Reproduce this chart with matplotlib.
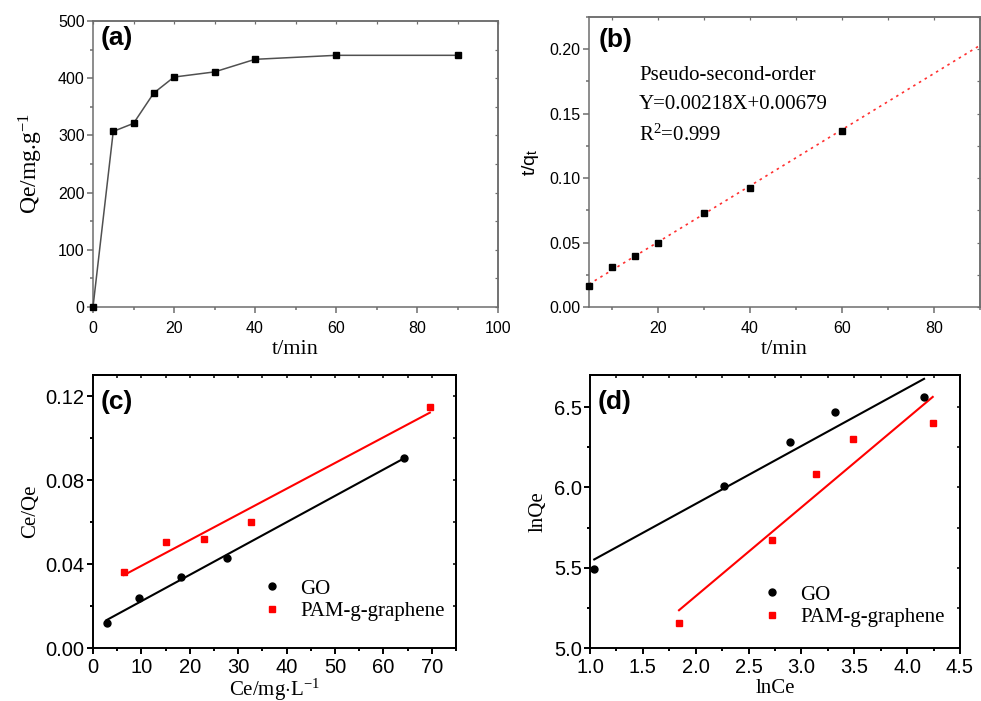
import numpy as np
import matplotlib
matplotlib.use('Agg')
import matplotlib.pyplot as plt
from matplotlib.ticker import MultipleLocator

plt.rcParams['font.family'] = ['Liberation Sans', 'DejaVu Sans']
plt.rcParams['mathtext.fontset'] = 'custom'
plt.rcParams['mathtext.rm'] = 'Liberation Serif'
plt.rcParams['mathtext.it'] = 'Liberation Serif:italic'
plt.rcParams['mathtext.bf'] = 'Liberation Serif:bold'
plt.rcParams['mathtext.sf'] = 'Liberation Sans'
SERIF = ['Liberation Serif', 'DejaVu Serif']

# ---------------- data ----------------
# (a) adsorption kinetics
t_a = [0, 5, 10, 15, 20, 30, 40, 60, 90]
qe_a = [0, 307, 321, 374, 402, 411, 433, 440, 440]

# (b) pseudo-second-order
t_b = [5, 10, 15, 20, 30, 40, 60]
tq_b = [0.0163, 0.0310, 0.0398, 0.0496, 0.0731, 0.0922, 0.1362]
fit_slope_b = 0.00218
fit_icpt_b = 0.00679
fit_range_b = [5, 90]

# (c) Langmuir
ce_go = [2.8, 9.6, 18.1, 27.7, 64.3]
ceqe_go = [0.0117, 0.0236, 0.0337, 0.0429, 0.0905]
ce_pam = [6.4, 15.1, 22.9, 32.6, 69.6]
ceqe_pam = [0.0362, 0.0507, 0.0521, 0.0600, 0.1149]

# (d) Freundlich
lnce_go = [1.04, 2.265, 2.895, 3.32, 4.16]
lnqe_go = [5.49, 6.01, 6.284, 6.467, 6.563]
lnce_pam = [1.842, 2.719, 3.138, 3.488, 4.242]
lnqe_pam = [5.156, 5.674, 6.084, 6.300, 6.404]

series_labels = ['GO', 'PAM-g-graphene']

# ---------------- figure ----------------
W, H = 981, 701
fig = plt.figure(figsize=(W / 100, H / 100), dpi=100)


def add_axes(l, t, r, b):
    return fig.add_axes([l / W, 1 - b / H, (r - l) / W, (b - t) / H])


axa = add_axes(93, 21, 498, 307)
axb = add_axes(589, 17, 980, 307)
axc = add_axes(93, 375, 456, 648)
axd = add_axes(590, 375, 960, 648)


def style(ax, color, lw, xmaj, xmin, ymaj, ymin, fs, xpad):
    for s in ax.spines.values():
        s.set_color(color)
        s.set_linewidth(lw)
    ax.xaxis.set_major_locator(MultipleLocator(xmaj))
    ax.xaxis.set_minor_locator(MultipleLocator(xmin))
    ax.yaxis.set_major_locator(MultipleLocator(ymaj))
    ax.yaxis.set_minor_locator(MultipleLocator(ymin))
    ax.tick_params(which='both', direction='out', color=color, width=lw,
                   labelsize=fs, labelcolor='black')
    ax.tick_params(which='major', length=4, pad=2)
    ax.tick_params(axis='x', which='major', pad=xpad)
    ax.tick_params(which='minor', length=2.5)
    sx = ax.secondary_xaxis('top')
    sy = ax.secondary_yaxis('right')
    sx.xaxis.set_major_locator(MultipleLocator(xmaj))
    sx.xaxis.set_minor_locator(MultipleLocator(xmin))
    sy.yaxis.set_major_locator(MultipleLocator(ymaj))
    sy.yaxis.set_minor_locator(MultipleLocator(ymin))
    sx.tick_params(which='both', direction='in', color=color, width=lw * 0.8,
                   labeltop=False, length=2.5)
    sy.tick_params(which='both', direction='in', color=color, width=lw * 0.8,
                   labelright=False, length=2.5)
    for s in (sx, sy):
        for sp in s.spines.values():
            sp.set_color(color)
            sp.set_linewidth(lw)


def panel_label(ax, txt, x, y):
    ax.text(x, y, txt, transform=ax.transAxes, fontsize=19, fontweight='bold',
            ha='left', va='center', family=['Liberation Sans', 'DejaVu Sans'])


# ---- (a)
gray = '#6e6e6e'
axa.plot(t_a, qe_a, color='#505050', lw=1.1, marker='s', ms=4.5,
         mfc='black', mec='black', clip_on=False, zorder=3)
axa.set_xlim(0, 100)
axa.set_ylim(0, 500)
style(axa, gray, 1.1, 20, 10, 100, 50, 11.5, 6)
axa.set_xlabel('t/min', family=SERIF, fontsize=16, labelpad=3)
axa.set_ylabel('Qe/mg.g$^{-1}$', family=SERIF, fontsize=17, labelpad=9)
panel_label(axa, '(a)', 0.018, 0.94)

# ---- (b)
xb = np.array(fit_range_b, dtype=float)
axb.plot(xb, fit_slope_b * xb + fit_icpt_b, color='#ff3030', lw=1.2,
         ls=(0, (1.5, 2.5)), zorder=2)
axb.plot(t_b, tq_b, ls='none', marker='s', ms=4.5, mfc='black', mec='black',
         clip_on=False, zorder=3)
axb.set_xlim(5, 90)
axb.set_ylim(0, 0.225)
style(axb, gray, 1.1, 20, 10, 0.05, 0.025, 11.5, 6)
axb.set_xlabel('t/min', family=SERIF, fontsize=16, labelpad=3)
axb.set_ylabel('t/q$_\\mathsf{t}$', fontsize=14, labelpad=6)
panel_label(axb, '(b)', 0.025, 0.92)
txt_b = ['Pseudo-second-order',
         'Y=%.5fX+%.5f' % (fit_slope_b, fit_icpt_b),
         'R$^\\mathregular{2}$=0.999']
for i, s in enumerate(txt_b):
    axb.text(0.128, 0.80 - i * 0.103, s, transform=axb.transAxes,
             family=SERIF, fontsize=15, ha='left', va='center')

# ---- (c)
for x, y, c in ((ce_go, ceqe_go, 'black'), (ce_pam, ceqe_pam, 'red')):
    k, b0 = np.polyfit(x, y, 1)
    xx = np.array([min(x), max(x)])
    axc.plot(xx, k * xx + b0, color=c, lw=1.5, zorder=2)
axc.plot(ce_go, ceqe_go, ls='none', marker='o', ms=5, color='black',
         label=series_labels[0], zorder=3)
axc.plot(ce_pam, ceqe_pam, ls='none', marker='s', ms=4.5, color='red',
         label=series_labels[1], zorder=3)
axc.set_xlim(0, 75)
axc.set_ylim(0, 0.13)
style(axc, 'black', 1.4, 10, 5, 0.04, 0.02, 14.5, 3)
axc.xaxis.set_major_locator(plt.FixedLocator([0, 10, 20, 30, 40, 50, 60, 70]))
axc.set_xlabel('Ce/mg$\\cdot$L$^{-1}$', family=SERIF, fontsize=15, labelpad=0)
axc.set_ylabel('Ce/Qe', family=SERIF, fontsize=15, labelpad=4)
panel_label(axc, '(c)', 0.02, 0.9)
axc.legend(loc='center left', bbox_to_anchor=(0.464, 0.175), frameon=False,
           prop={'family': SERIF, 'size': 15}, handlelength=1.0,
           handletextpad=0.85, labelspacing=0.15, borderpad=0,
           borderaxespad=0, numpoints=1)

# ---- (d)
for x, y, c in ((lnce_go, lnqe_go, 'black'), (lnce_pam, lnqe_pam, 'red')):
    k, b0 = np.polyfit(x, y, 1)
    xx = np.array([min(x), max(x)])
    axd.plot(xx, k * xx + b0, color=c, lw=1.5, zorder=2)
axd.plot(lnce_go, lnqe_go, ls='none', marker='o', ms=5, color='black',
         label=series_labels[0], zorder=3)
axd.plot(lnce_pam, lnqe_pam, ls='none', marker='s', ms=4.5, color='red',
         label=series_labels[1], zorder=3)
axd.set_xlim(1.0, 4.5)
axd.set_ylim(5.0, 6.7)
style(axd, 'black', 1.4, 0.5, 0.25, 0.5, 0.25, 14.5, 3)
axd.set_xlabel('lnCe', family=SERIF, fontsize=15, labelpad=1.5)
axd.set_ylabel('lnQe', family=SERIF, fontsize=15, labelpad=4)
panel_label(axd, '(d)', 0.02, 0.9)
axd.legend(loc='center left', bbox_to_anchor=(0.464, 0.153), frameon=False,
           prop={'family': SERIF, 'size': 15}, handlelength=1.0,
           handletextpad=0.85, labelspacing=0.15, borderpad=0,
           borderaxespad=0, numpoints=1)

fig.savefig('out.png', dpi=100)
